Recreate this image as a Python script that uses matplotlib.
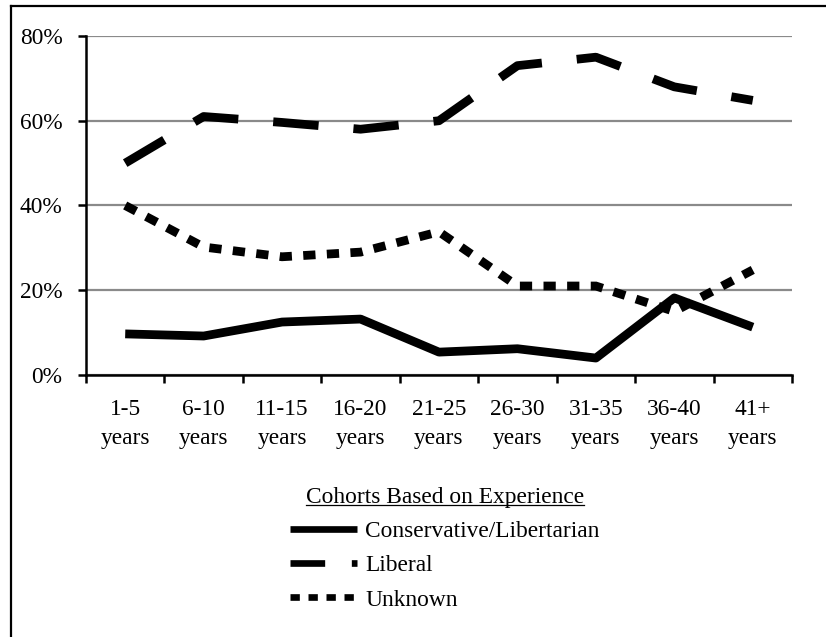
import matplotlib
matplotlib.use('Agg')
from matplotlib import pyplot as plt
from matplotlib.lines import Line2D
import numpy as np

plt.rcParams['font.family'] = ['Liberation Serif', 'DejaVu Serif']

cohorts = ['1-5\nyears', '6-10\nyears', '11-15\nyears', '16-20\nyears', '21-25\nyears',
           '26-30\nyears', '31-35\nyears', '36-40\nyears', '41+\nyears']
conservative = [9.7, 9.2, 12.5, 13.2, 5.4, 6.2, 4.0, 18.2, 11.3]
liberal = [50.0, 61.0, 59.6, 58.0, 60.0, 73.0, 75.0, 68.0, 64.8]
unknown = [40.0, 30.2, 27.9, 29.0, 33.8, 21.0, 21.0, 15.0, 24.8]
yticks = [0, 20, 40, 60, 80]
legend_title = 'Cohorts Based on Experience'
series_names = ['Conservative/Libertarian', 'Liberal', 'Unknown']

fs = 16.8

fig = plt.figure(figsize=(8.26, 6.37), dpi=100)
ax = fig.add_axes([0.1041, 0.4113, 0.8547, 0.5322])

x = np.arange(len(cohorts))
lw = 6.3
l1, = ax.plot(x, conservative, color='black', lw=lw, solid_capstyle='butt',
              solid_joinstyle='round', zorder=3)
l2, = ax.plot(x, liberal, color='black', lw=lw, dashes=(5.2, 4.0),
              dash_capstyle='butt', dash_joinstyle='round', zorder=3)
l3, = ax.plot(x, unknown, color='black', lw=lw, dashes=(1.4, 1.3),
              dash_capstyle='butt', dash_joinstyle='miter', zorder=3)

ax.set_xlim(-0.5, len(cohorts) - 0.5)
ax.set_ylim(0, 80)
ax.set_yticks(yticks)
ax.set_yticklabels(['%d%%' % v for v in yticks])
ax.yaxis.grid(True, color='#8a8a8a', lw=1.6)
ax.set_axisbelow(True)

ax.set_xticks(np.arange(-0.5, len(cohorts)), minor=False)
ax.set_xticklabels([])
ax.set_xticks(x, minor=True)
ax.set_xticklabels(cohorts, minor=True, linespacing=1.5)
ax.tick_params(axis='x', which='major', direction='out', length=6, width=1.8)
ax.tick_params(axis='x', which='minor', length=0, pad=17, labelsize=fs)
ax.tick_params(axis='y', direction='out', length=6, width=1.8, pad=11, labelsize=fs)

for s in ['top', 'right']:
    ax.spines[s].set_visible(False)
for s in ['left', 'bottom']:
    ax.spines[s].set_linewidth(1.8)

# legend handles drawn a bit thinner like the original
h1 = Line2D([], [], color='black', lw=4.8, solid_capstyle='butt')
h2 = Line2D([], [], color='black', lw=4.8, dashes=(5.2, 4.0), dash_capstyle='butt')
h3 = Line2D([], [], color='black', lw=4.8, dashes=(1.4, 1.3), dash_capstyle='butt')
leg = fig.legend([h1, h2, h3], series_names, loc='upper center',
                 bbox_to_anchor=(445 / 826, 1 - 466 / 637), frameon=False,
                 fontsize=fs, title=legend_title, title_fontsize=fs,
                 handlelength=2.88, handletextpad=0.35, labelspacing=0.55)

# figure border (only left and top visible in original)
fig.add_artist(Line2D([11 / 826, 11 / 826], [0, 1 - 6 / 637], color='black', lw=1.6))
fig.add_artist(Line2D([11 / 826, 1], [1 - 6 / 637, 1 - 6 / 637], color='black', lw=1.6))

# underline legend title
fig.canvas.draw()
bb = leg.get_title().get_window_extent().transformed(fig.transFigure.inverted())
fig.add_artist(Line2D([bb.x0, bb.x1], [bb.y0 + 0.004, bb.y0 + 0.004], color='black', lw=0.9))

fig.savefig('out.png', dpi=100)
